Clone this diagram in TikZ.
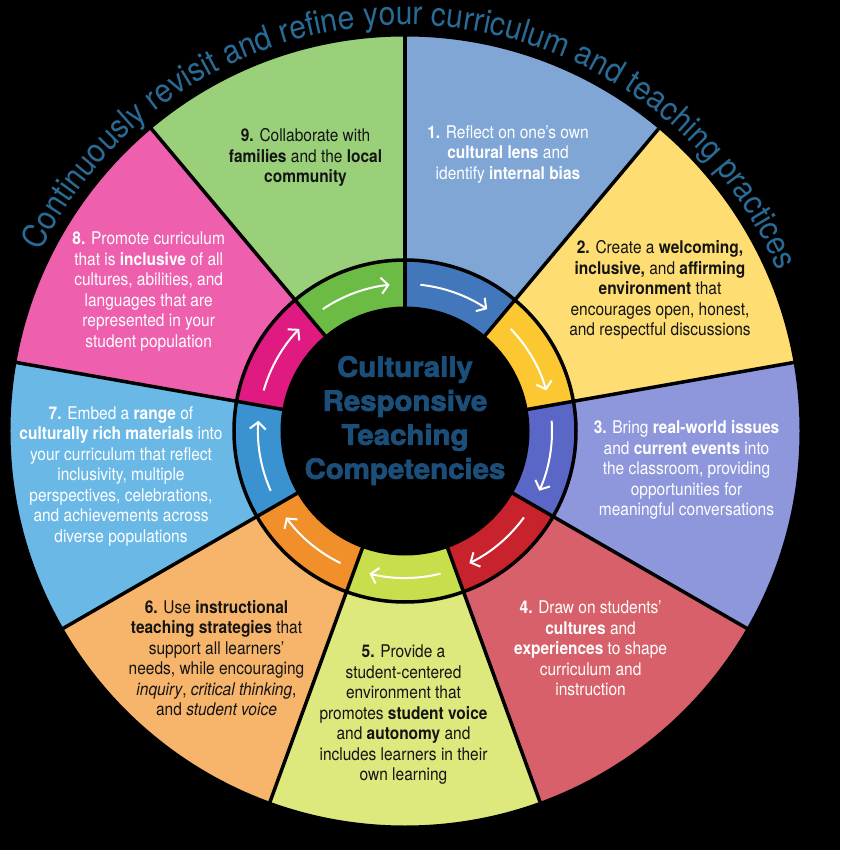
\documentclass[tikz,border=0pt]{standalone}
\usepackage{fontspec}
\setmainfont{TeX Gyre Heros}[FakeStretch=0.885]
\newfontfamily\titlefont{TeX Gyre Heros}[FakeStretch=0.91]
\newfontfamily\centerfont{TeX Gyre Heros}[FakeStretch=1.05,FakeBold=2.5]
\usetikzlibrary{arrows.meta,decorations.text}
\definecolor{s1}{HTML}{7FA6D5}
\definecolor{s2}{HTML}{FEDE73}
\definecolor{s3}{HTML}{8E97DC}
\definecolor{s4}{HTML}{D8606A}
\definecolor{s5}{HTML}{DDE87D}
\definecolor{s6}{HTML}{F6B56B}
\definecolor{s7}{HTML}{6AB8E6}
\definecolor{s8}{HTML}{EE5FAE}
\definecolor{s9}{HTML}{9AD07A}
\definecolor{s1r}{HTML}{4277BB}
\definecolor{s2r}{HTML}{FCC832}
\definecolor{s3r}{HTML}{5B67C6}
\definecolor{s4r}{HTML}{C8222C}
\definecolor{s5r}{HTML}{C9DE4C}
\definecolor{s6r}{HTML}{F18F2A}
\definecolor{s7r}{HTML}{3B92D0}
\definecolor{s8r}{HTML}{DF1A80}
\definecolor{s9r}{HTML}{6CBB44}
\definecolor{ctext}{HTML}{1B4E79}
\definecolor{ttext}{HTML}{2A6B96}
\tikzset{
  segtext/.style={align=center, font=\fontsize{17.5}{20.5}\selectfont, inner sep=0pt},
  wtext/.style={segtext, text=white},
  btext/.style={segtext, text=black!92},
  sepline/.style={black, line width=3.5pt},
  ringarrow/.style={white, line width=2pt, -{Straight Barb[length=7pt,width=16pt]}},
}
\begin{document}
\begin{tikzpicture}[x=1pt,y=1pt]
\fill[black] (-405,-419) rectangle (435,431);
\useasboundingbox (-405,-419) rectangle (435,431);
% outer segments and ring segments
\foreach \a/\c in {90/s1,50/s2,10/s3,-30/s4,-70/s5,-110/s6,-150/s7,-190/s8,-230/s9} {
  \fill[\c] (0,0) -- (\a:396) arc[start angle=\a, delta angle=-40, radius=396] -- cycle;
  \fill[\c r] (\a:123) -- (\a:171) arc[start angle=\a, delta angle=-40, radius=171]
     -- ({\a-40}:123) arc[start angle=\a-40, delta angle=40, radius=123] -- cycle;
}
\foreach \a in {90,50,10,-30,-70,-110,-150,-190,-230} {
  \draw[sepline] (\a:121) -- (\a:397);
}
\draw[black, line width=3pt] (0,0) circle[radius=396];
\draw[sepline] (0,0) circle[radius=171];
\fill[black] (0,0) circle[radius=124.5];
% ring arrows
\foreach \m in {70,30,-10,-50,-90,-130,-170,150,110} {
  \draw[ringarrow] ({\m+14}:147) arc[start angle=\m+14, delta angle=-28, radius=147];
}
% title along arc
\path[decorate, decoration={text along path, text color=ttext,
  text={|\titlefont\fontsize{33}{36}\selectfont|Continuously revisit and refine your curriculum and teaching practices},
  text align=center}]
  (165:406) arc[start angle=165, end angle=12, radius=406];
% centre
\node[align=center, text=ctext, font=\fontsize{28}{34}\centerfont\bfseries\selectfont] (centre) at (0,10.5)
  {Culturally\\Responsive\\Teaching\\Competencies};
% segment texts
\node[wtext] (t1) at (103,276.5) {\textbf{1.} Reflect on one's own\\\textbf{cultural lens} and\\identify \textbf{internal bias}};
\node[btext] (t2) at (255,141) {\textbf{2.} Create a \textbf{welcoming,}\\\textbf{inclusive,} and \textbf{affirming}\\\textbf{environment} that\\encourages open, honest,\\and respectful discussions};
\node[wtext] (t3) at (281.5,-39.3) {\textbf{3.} Bring \textbf{real-world issues}\\and \textbf{current events} into\\the classroom, providing\\opportunities for\\meaningful conversations};
\node[wtext] (t4) at (185.6,-217.5) {\textbf{4.} Draw on students'\\\textbf{cultures} and\\\textbf{experiences} to shape\\curriculum and\\instruction};
\node[btext] (t5) at (-1.5,-283.8) {\textbf{5.} Provide a\\student-centered\\environment that\\promotes \textbf{student voice}\\and \textbf{autonomy} and\\includes learners in their\\own learning};
\node[btext] (t6) at (-188.5,-227) {\textbf{6.} Use \textbf{instructional}\\\textbf{teaching strategies} that\\support all learners'\\needs, while encouraging\\\textit{inquiry}, \textit{critical thinking},\\and \textit{student voice}};
\node[wtext] (t7) at (-284,-45.3) {\textbf{7.} Embed a \textbf{range} of\\\textbf{culturally rich materials} into\\your curriculum that reflect\\inclusivity, multiple\\perspectives, celebrations,\\and achievements across\\diverse populations};
\node[wtext] (t8) at (-256.3,139.5) {\textbf{8.} Promote curriculum\\that is \textbf{inclusive} of all\\cultures, abilities, and\\languages that are\\represented in your\\student population};
\node[btext] (t9) at (-99.5,273.5) {\textbf{9.} Collaborate with\\\textbf{families} and the \textbf{local}\\\textbf{community}};
\end{tikzpicture}
\end{document}
